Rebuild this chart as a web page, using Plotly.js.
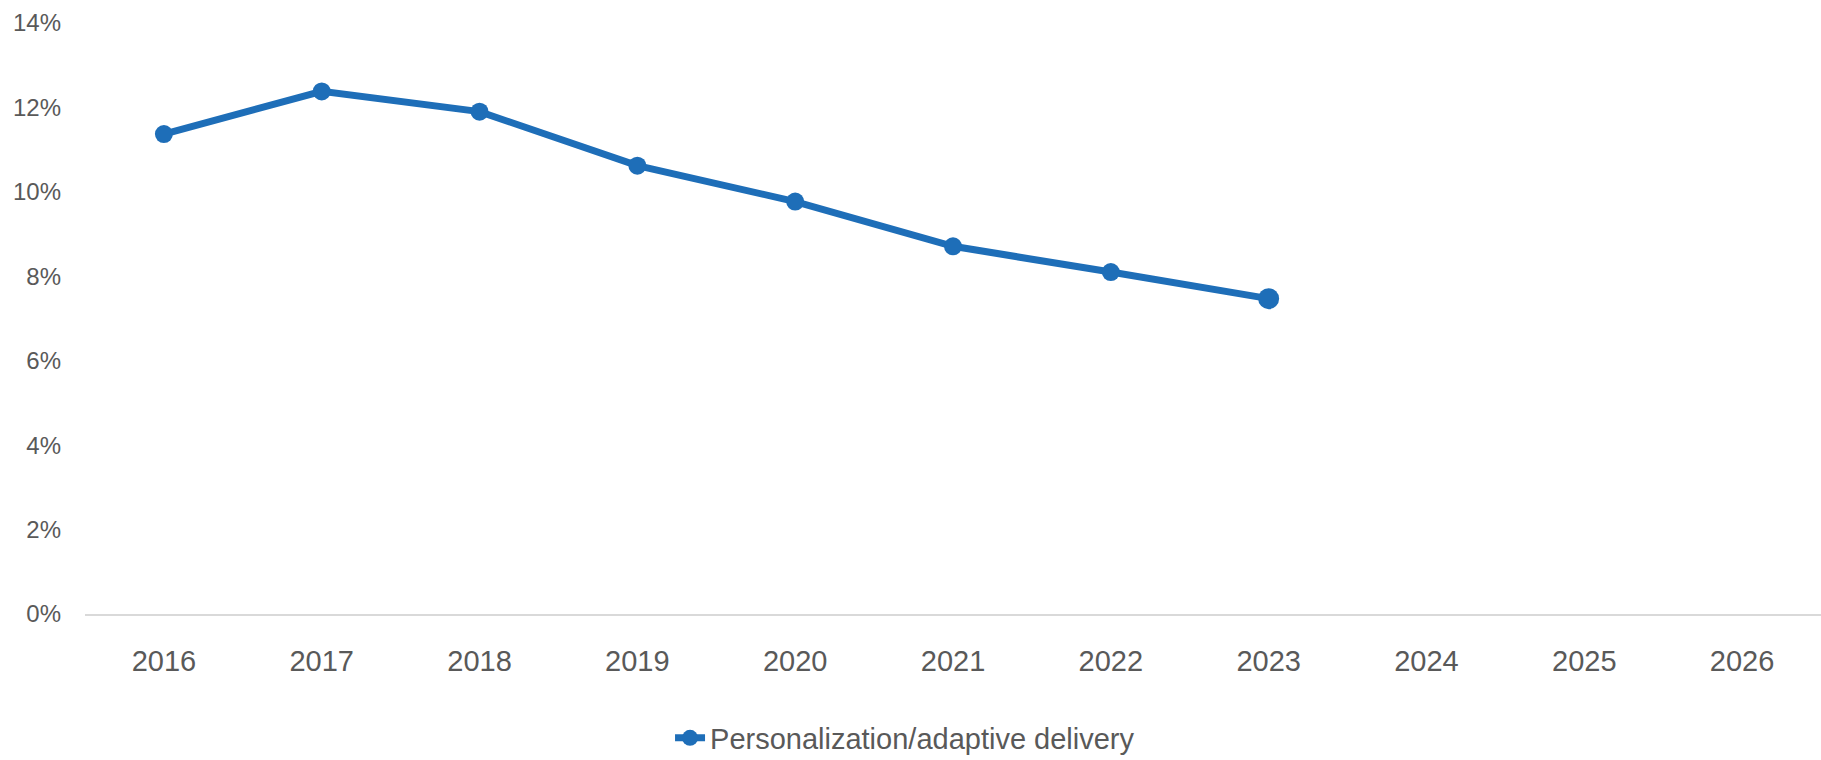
<!DOCTYPE html>
<html>
<head>
<meta charset="utf-8">
<script src="https://cdn.plot.ly/plotly-3.0.1.min.js"></script>
<style>
  html, body { margin: 0; padding: 0; background: #ffffff; }
  #chart { width: 1821px; height: 760px; }
</style>
</head>
<body>
<div id="chart"></div>
<script>
// Category axis: every year shown, values only where reported
const years = ['2016', '2017', '2018', '2019', '2020', '2021', '2022', '2023', '2024', '2025', '2026'];
const seriesName = 'Personalization/adaptive delivery';
const shareValues = [0.1137, 0.1238, 0.1190, 0.1062, 0.0977, 0.0871, 0.0810, 0.0747];
const yTickValues = [0, 0.02, 0.04, 0.06, 0.08, 0.10, 0.12, 0.14];
const yTickLabels = ['0%', '2%', '4%', '6%', '8%', '10%', '12%', '14%'];

const blue = '#1e6eb8';
const textGrey = '#595959';
const labelFont = '"Liberation Sans Narrow", "Liberation Sans", Arial, sans-serif';

const xs = years.slice(0, shareValues.length);
// last reported point is drawn slightly larger
const markerSizes = xs.map((_, i) => (i === xs.length - 1 ? 21 : 18));

const trace = {
  type: 'scatter',
  mode: 'lines+markers',
  name: seriesName,
  x: xs,
  y: shareValues,
  line: { color: blue, width: 7 },
  marker: { color: blue, size: markerSizes, opacity: 1, symbol: 'circle', line: { width: 0 } },
  hoverinfo: 'skip'
};

const layout = {
  width: 1821,
  height: 760,
  paper_bgcolor: '#ffffff',
  plot_bgcolor: '#ffffff',
  margin: { l: 85, r: 0, t: 23, b: 145.5, pad: 0 },
  showlegend: true,
  legend: {
    orientation: 'h',
    xref: 'container',
    yref: 'container',
    x: 0.497,
    xanchor: 'center',
    y: 0.029,
    yanchor: 'middle',
    font: { family: '"Liberation Sans", Arial, sans-serif', size: 29, color: textGrey },
    itemsizing: 'trace',
    bgcolor: 'rgba(0,0,0,0)'
  },
  xaxis: {
    type: 'category',
    categoryorder: 'array',
    categoryarray: years,
    range: [-0.5, years.length - 0.5],
    showgrid: false,
    zeroline: false,
    showline: true,
    linecolor: '#d9d9d9',
    linewidth: 1.5,
    ticks: '',
    ticklabelstandoff: 21,
    tickfont: { family: labelFont, size: 29, color: textGrey },
    fixedrange: true
  },
  yaxis: {
    range: [0, 0.14],
    tickvals: yTickValues,
    ticktext: yTickLabels,
    showgrid: false,
    zeroline: false,
    showline: false,
    ticks: '',
    ticklabelstandoff: 23,
    tickfont: { family: labelFont, size: 24, color: textGrey },
    fixedrange: true
  }
};

Plotly.newPlot('chart', [trace], layout, { displayModeBar: false, staticPlot: true });
</script>
</body>
</html>
